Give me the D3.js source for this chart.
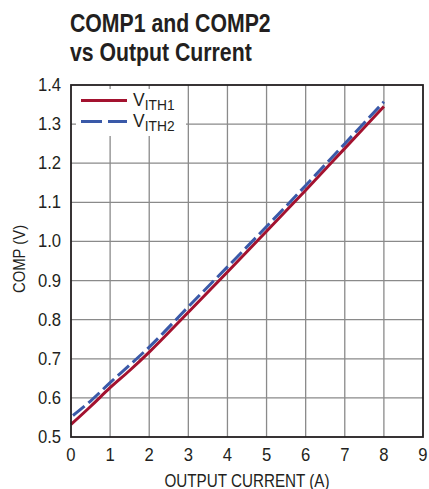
<!doctype html>
<html>
  <head>
    <meta charset="utf-8">
    <title>COMP1 and COMP2 vs Output Current</title>
    <script src="https://cdnjs.cloudflare.com/ajax/libs/d3/7.8.5/d3.min.js"></script>
    <style>
      body { margin: 0; background: #fff; }
      text { font-family: "Liberation Sans", Arial, sans-serif; fill: #231f20; }
    </style>
  </head>
  <body>
    <div id="chart"></div>
    <script>
      // data
      const current1 = [0, 0.5, 1, 1.5, 2, 3, 4, 5, 6, 7, 8];
      const vith1 = [0.532, 0.578, 0.626, 0.670, 0.717, 0.819, 0.922, 1.026, 1.131, 1.238, 1.345];
      const current2 = [0.05, 0.5, 1, 1.5, 2, 3, 4, 5, 6, 7, 8];
      const vith2 = [0.555, 0.592, 0.639, 0.684, 0.730, 0.833, 0.935, 1.038, 1.143, 1.25, 1.357];
      const xTicks = [0, 1, 2, 3, 4, 5, 6, 7, 8, 9];
      const yTicks = [0.5, 0.6, 0.7, 0.8, 0.9, 1.0, 1.1, 1.2, 1.3, 1.4];
      const seriesNames = ['ITH1', 'ITH2'];

      const width = 429, height = 489;
      const plotLeft = 71, plotRight = 423, plotTop = 85, plotBottom = 437;

      const x = d3.scaleLinear().domain([0, 9]).range([plotLeft, plotRight]);
      const y = d3.scaleLinear().domain([0.5, 1.4]).range([plotBottom, plotTop]);

      const svg = d3.select('#chart').append('svg')
        .attr('width', width)
        .attr('height', height);

      // the original uses a condensed face, so squeeze text horizontally
      const squeeze = (px, py, sx) => `translate(${px},${py}) scale(${sx},1)`;

      // title
      ['COMP1 and COMP2', 'vs Output Current'].forEach((t, i) => {
        svg.append('text')
          .attr('transform', squeeze(70, 32 + i * 29, 0.85))
          .style('font-size', '25px')
          .style('font-weight', 'bold')
          .text(t);
      });

      // grid
      svg.append('g')
        .selectAll('line')
        .data(xTicks.slice(1, -1))
        .join('line')
        .attr('x1', d => x(d)).attr('x2', d => x(d))
        .attr('y1', plotTop).attr('y2', plotBottom)
        .attr('stroke', '#8a8a8a')
        .attr('stroke-width', 1.3);

      svg.append('g')
        .selectAll('line')
        .data(yTicks.slice(1, -1))
        .join('line')
        .attr('x1', plotLeft).attr('x2', plotRight)
        .attr('y1', d => y(d)).attr('y2', d => y(d))
        .attr('stroke', '#8a8a8a')
        .attr('stroke-width', 1.3);

      // tick labels
      svg.append('g')
        .selectAll('text')
        .data(xTicks)
        .join('text')
        .attr('transform', d => squeeze(x(d), 461, 0.9))
        .attr('text-anchor', 'middle')
        .style('font-size', '18.5px')
        .text(d => d);

      svg.append('g')
        .selectAll('text')
        .data(yTicks)
        .join('text')
        .attr('transform', d => squeeze(61, y(d) + 6, 0.9))
        .attr('text-anchor', 'end')
        .style('font-size', '18.5px')
        .text(d => d.toFixed(1));

      // axis titles
      svg.append('text')
        .attr('transform', squeeze((plotLeft + plotRight) / 2, 487, 0.87))
        .attr('text-anchor', 'middle')
        .style('font-size', '17.5px')
        .text('OUTPUT CURRENT (A)');

      svg.append('text')
        .attr('transform', `translate(25,${(plotTop + plotBottom) / 2 - 2}) rotate(-90) scale(0.9,1)`)
        .attr('text-anchor', 'middle')
        .style('font-size', '16.5px')
        .text('COMP (V)');

      // curves
      const line = d3.line()
        .x(d => x(d[0]))
        .y(d => y(d[1]))
        .curve(d3.curveMonotoneX);

      svg.append('path')
        .datum(d3.zip(current1, vith1))
        .attr('d', line)
        .attr('fill', 'none')
        .attr('stroke', '#a3122f')
        .attr('stroke-width', 3);

      svg.append('path')
        .datum(d3.zip(current2, vith2))
        .attr('d', line)
        .attr('fill', 'none')
        .attr('stroke', '#3a59a8')
        .attr('stroke-width', 3)
        .attr('stroke-dasharray', '15,5');

      // legend with white box over grid
      svg.append('rect')
        .attr('x', 76).attr('y', 89)
        .attr('width', 110).attr('height', 47)
        .attr('fill', '#fff');

      const legend = svg.append('g');
      const legendStyles = [
        { color: '#a3122f', dash: null, yPos: 100.5 },
        { color: '#3a59a8', dash: '21,6', yPos: 121.5 }
      ];
      legendStyles.forEach((s, i) => {
        legend.append('line')
          .attr('x1', 81).attr('x2', 127)
          .attr('y1', s.yPos).attr('y2', s.yPos)
          .attr('stroke', s.color)
          .attr('stroke-width', 3)
          .attr('stroke-dasharray', s.dash);
        const t = legend.append('text')
          .attr('transform', squeeze(133, s.yPos + 5, 0.92))
          .style('font-size', '19px');
        t.append('tspan').text('V');
        t.append('tspan')
          .attr('dy', 4)
          .style('font-size', '15px')
          .text(seriesNames[i]);
      });

      // frame
      svg.append('rect')
        .attr('x', plotLeft).attr('y', plotTop)
        .attr('width', plotRight - plotLeft).attr('height', plotBottom - plotTop)
        .attr('fill', 'none')
        .attr('stroke', '#231f20')
        .attr('stroke-width', 1.8);
    </script>
  </body>
</html>
